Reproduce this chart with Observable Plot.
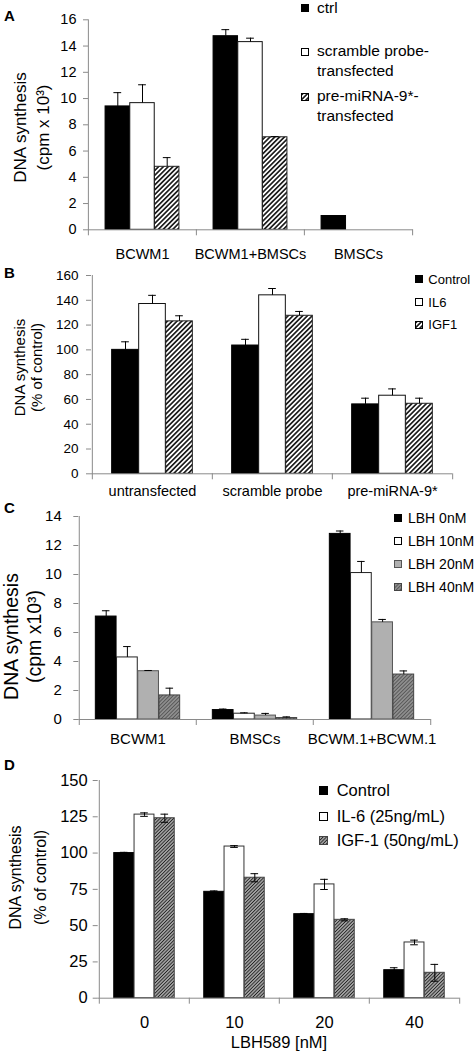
<!DOCTYPE html>
<html><head><meta charset="utf-8">
<script src="https://cdn.jsdelivr.net/npm/d3@7"></script>
<script src="https://cdn.jsdelivr.net/npm/@observablehq/plot@0.6"></script>
<style>
body{margin:0;background:#fff;}
#root{position:relative;width:475px;height:1063px;font-family:"Liberation Sans",Arial,sans-serif;color:#000;overflow:hidden;background:#fff}
.lgt{position:absolute;white-space:nowrap;}
.sw{position:absolute;}
.letter{position:absolute;font-weight:bold;font-size:15px;line-height:1}
</style></head>
<body>
<svg width="0" height="0" style="position:absolute"><defs>
<pattern id="hatchA" patternUnits="userSpaceOnUse" width="3.4" height="3.4" patternTransform="rotate(45)"><rect width="3.4" height="3.4" fill="#fff"/><line x1="1.7" y1="0" x2="1.7" y2="3.4" stroke="#000" stroke-width="1.5"/></pattern>
<pattern id="hatchC" patternUnits="userSpaceOnUse" width="2.6" height="2.6" patternTransform="rotate(45)"><rect width="2.6" height="2.6" fill="#9c9c9c"/><line x1="1.3" y1="0" x2="1.3" y2="2.6" stroke="#555" stroke-width="1.2"/></pattern>
<pattern id="hatchD" patternUnits="userSpaceOnUse" width="2.4" height="2.4" patternTransform="rotate(45)"><rect width="2.4" height="2.4" fill="#c8c8c8"/><line x1="1.2" y1="0" x2="1.2" y2="2.4" stroke="#222" stroke-width="1.2"/></pattern>
</defs></svg>
<div id="root"></div>
<script>
// ---------- Panel A ----------
const catsA = ["BCWM1", "BCWM1+BMSCs", "BMSCs"];
const seriesA = ["ctrl", "scramble probe-transfected", "pre-miRNA-9*-transfected"];
const ctrlA = [9.4, 14.75, 1.05];
const ctrlErrA = [1.05, 0.5, 0];
const scrambleA = [9.65, 14.3, null];
const scrambleErrA = [1.4, 0.3, null];
const preA = [4.8, 7.05, null];
const preErrA = [0.7, 0.05, null];
const ticksA = [0, 2, 4, 6, 8, 10, 12, 14, 16];
const legendA = [["ctrl"], ["scramble probe-", "transfected"], ["pre-miRNA-9*-", "transfected"]];

// ---------- Panel B ----------
const catsB = ["untransfected", "scramble probe", "pre-miRNA-9*"];
const seriesB = ["Control", "IL6", "IGF1"];
const controlB = [100, 103.5, 56];
const controlErrB = [6.5, 5, 5];
const il6B = [137, 144, 63];
const il6ErrB = [7, 5.5, 5.5];
const igf1B = [123, 127.5, 56.5];
const igf1ErrB = [4.5, 3.5, 4.5];
const ticksB = [0, 20, 40, 60, 80, 100, 120, 140, 160];

// ---------- Panel C ----------
const catsC = ["BCWM1", "BMSCs", "BCWM.1+BCWM.1"];
const seriesC = ["LBH 0nM", "LBH 10nM", "LBH 20nM", "LBH 40nM"];
const lbh0C = [7.1, 0.65, 12.8];
const lbh0ErrC = [0.4, 0.07, 0.2];
const lbh10C = [4.28, 0.4, 10.1];
const lbh10ErrC = [0.75, 0.06, 0.8];
const lbh20C = [3.33, 0.27, 6.7];
const lbh20ErrC = [0.05, 0.15, 0.2];
const lbh40C = [1.66, 0.1, 3.1];
const lbh40ErrC = [0.5, 0.08, 0.25];
const ticksC = [0, 2, 4, 6, 8, 10, 12, 14];

// ---------- Panel D ----------
const catsD = ["0", "10", "20", "40"];
const seriesD = ["Control", "IL-6 (25ng/mL)", "IGF-1 (50ng/mL)"];
const controlD = [100, 73.3, 57.9, 19.3];
const controlErrD = [0.5, 0.6, 0.5, 1.7];
const il6D = [126.5, 104.5, 78.4, 38.4];
const il6ErrD = [1.2, 0.6, 3.5, 1.6];
const igf1D = [124, 83, 54, 17.5];
const igf1ErrD = [2.8, 2.8, 0.7, 5.8];
const ticksD = [0, 25, 50, 75, 100, 125, 150];

const W = 475;
const GRAY = "#8a8a8a";
const FONT = "Liberation Sans, Arial, sans-serif";
const root = document.getElementById("root");

function drawPanel(c) {
  const n = c.vals.length;
  const plotW = W - c.ml - c.mr;
  const plotH = c.height - c.mt - c.mb;
  const step = plotW / c.cats.length;
  const inset = (step - c.barW) / 2;
  const capInset = (step - 8) / 2;
  const ymax = c.ticks[c.ticks.length - 1];
  const below = -6 * ymax / plotH;
  const rows = [];
  c.vals.forEach((arr, k) => arr.forEach((v, i) => {
    if (v != null) rows.push({cat: c.cats[i], k, value: v, err: c.errs[k][i] || 0});
  }));
  const marks = [];
  const dxs = d3.range(n).map(k => (k - (n - 1) / 2) * c.barW);
  for (let k = 0; k < n; k++) {
    marks.push(Plot.barY(rows.filter(r => r.k === k), {
      x: "cat", y: "value", fill: c.fills[k], stroke: c.strokes[k], strokeWidth: 1,
      insetLeft: inset, insetRight: inset, dx: dxs[k]
    }));
  }
  for (let k = 0; k < n; k++) {
    const eb = rows.filter(r => r.k === k && r.err > 0);
    marks.push(Plot.ruleX(eb, {x: "cat", y1: r => c.both ? r.value - r.err : r.value, y2: r => r.value + r.err, dx: dxs[k], stroke: "#000", strokeWidth: 1}));
    marks.push(Plot.tickY(eb, {x: "cat", y: r => r.value + r.err, dx: dxs[k], insetLeft: capInset, insetRight: capInset, stroke: "#000", strokeWidth: 1}));
    if (c.both) marks.push(Plot.tickY(eb, {x: "cat", y: r => r.value - r.err, dx: dxs[k], insetLeft: capInset, insetRight: capInset, stroke: "#000", strokeWidth: 1}));
  }
  // axis lines
  marks.push(Plot.ruleY([0], {stroke: GRAY}));
  marks.push(Plot.ruleX([c.cats[0]], {x: d => d, dx: -step / 2, y1: below, y2: ymax, stroke: GRAY}));
  marks.push(Plot.ruleX(c.cats.slice(1), {x: d => d, dx: -step / 2, y1: below, y2: 0, stroke: GRAY}));
  marks.push(Plot.ruleX([c.cats[c.cats.length - 1]], {x: d => d, dx: step / 2, y1: below, y2: 0, stroke: GRAY}));
  marks.push(Plot.axisY({ticks: c.ticks, tickSize: 5, tickPadding: c.tickGap - 5, stroke: GRAY, fontSize: c.tickFs, label: null}));
  marks.push(Plot.axisX({tickSize: 0, tickPadding: c.catPad, fontSize: c.catFs, label: null}));
  const midY = c.top + c.mt + plotH / 2;
  c.titles.forEach(t => marks.push(Plot.text([t.text], {text: d => d, frameAnchor: "left", textAnchor: "middle", lineAnchor: "middle", rotate: -90, dx: t.x - c.ml, dy: t.y - midY, fontSize: t.fs})));
  if (c.xTitle) marks.push(Plot.text([c.xTitle.text], {text: d => d, frameAnchor: "bottom", textAnchor: "middle", lineAnchor: "middle", dy: c.xTitle.y - (c.top + c.height - c.mb), fontSize: c.xTitle.fs}));
  const svg = Plot.plot({
    width: W, height: c.height,
    marginLeft: c.ml, marginRight: c.mr, marginTop: c.mt, marginBottom: c.mb,
    x: {domain: c.cats, padding: 0},
    y: {domain: [0, ymax]},
    style: {fontFamily: FONT, background: "none", overflow: "visible", color: "#000"},
    marks
  });
  svg.style.position = "absolute";
  svg.style.left = "0px";
  svg.style.top = c.top + "px";
  root.appendChild(svg);
}

function legend(entries, sx, tx, size, fs) {
  entries.forEach(e => {
    if (e.fill) {
      const s = document.createElementNS("http://www.w3.org/2000/svg", "svg");
      s.setAttribute("width", size + 1); s.setAttribute("height", size + 1);
      s.setAttribute("class", "sw");
      s.style.left = (sx - 0.5) + "px"; s.style.top = (e.y - size / 2 - 0.5) + "px";
      const r = document.createElementNS("http://www.w3.org/2000/svg", "rect");
      r.setAttribute("x", 0.5); r.setAttribute("y", 0.5); r.setAttribute("width", size); r.setAttribute("height", size);
      r.setAttribute("fill", e.fill); r.setAttribute("stroke", e.stroke || "#000");
      s.appendChild(r); root.appendChild(s);
    }
    const d = document.createElement("div");
    d.className = "lgt";
    d.textContent = e.text;
    d.style.left = tx + "px";
    d.style.fontSize = fs + "px";
    d.style.lineHeight = (fs * 1.2) + "px";
    d.style.top = (e.y - fs * 0.6) + "px";
    root.appendChild(d);
  });
}

function letter(t, x, y) {
  const d = document.createElement("div");
  d.className = "letter"; d.textContent = t;
  d.style.left = x + "px"; d.style.top = (y - 7.5) + "px";
  root.appendChild(d);
}

// Panel A
drawPanel({
  top: 0, height: 262, ml: 88, mr: 62.3, mt: 19.3, mb: 32.7,
  cats: catsA, vals: [ctrlA, scrambleA, preA], errs: [ctrlErrA, scrambleErrA, preErrA],
  fills: ["#000", "#fff", "url(#hatchA)"], strokes: ["#000", "#111", "#222"],
  barW: 24.7, ticks: ticksA, both: false, tickFs: 14.5, tickGap: 12, catFs: 14.5, catPad: 18.5,
  titles: [{text: "DNA synthesis", x: 20, y: 127, fs: 17}, {text: "(cpm x 10³)", x: 43, y: 127, fs: 17}]
});
legend([
  {fill: "#000", y: 8, text: legendA[0][0]},
  {fill: "#fff", y: 51.7, text: legendA[1][0]},
  {y: 71.7, text: legendA[1][1]},
  {fill: "url(#hatchA)", y: 96.7, text: legendA[2][0]},
  {y: 116.7, text: legendA[2][1]}
], 301, 317, 7, 15.5);
letter("A", 4, 15);

// Panel B
drawPanel({
  top: 262, height: 246, ml: 91, mr: 23, mt: 13, mb: 34.7,
  cats: catsB, vals: [controlB, il6B, igf1B], errs: [controlErrB, il6ErrB, igf1ErrB],
  fills: ["#000", "#fff", "url(#hatchA)"], strokes: ["#000", "#111", "#222"],
  barW: 27, ticks: ticksB, both: false, tickFs: 13.5, tickGap: 13, catFs: 14.5, catPad: 11.5,
  titles: [{text: "DNA synthesis", x: 20, y: 367, fs: 15}, {text: "(% of control)", x: 37, y: 367, fs: 15}]
});
legend([
  {fill: "#000", y: 279.3, text: seriesB[0]},
  {fill: "#fff", y: 302.3, text: seriesB[1]},
  {fill: "url(#hatchA)", y: 325, text: seriesB[2]}
], 415.7, 428.3, 7, 13);
letter("B", 4, 272.5);

// Panel C
drawPanel({
  top: 508, height: 255, ml: 78.3, mr: 44.3, mt: 8, mb: 44,
  cats: catsC, vals: [lbh0C, lbh10C, lbh20C, lbh40C], errs: [lbh0ErrC, lbh10ErrC, lbh20ErrC, lbh40ErrC],
  fills: ["#000", "#fff", "#b0b0b0", "url(#hatchC)"], strokes: ["#000", "#222", "#555", "#444"],
  barW: 21.2, ticks: ticksC, both: false, tickFs: 15, tickGap: 17, catFs: 15, catPad: 13.6,
  titles: [{text: "DNA synthesis", x: 11, y: 636, fs: 19.5}, {text: "(cpm x10³)", x: 34, y: 636, fs: 19.5}]
});
legend([
  {fill: "#000", y: 518, text: seriesC[0]},
  {fill: "#fff", y: 541, text: seriesC[1]},
  {fill: "#b0b0b0", stroke: "#555", y: 564, text: seriesC[2]},
  {fill: "url(#hatchC)", stroke: "#444", y: 587, text: seriesC[3]}
], 394.3, 408, 7, 14);
letter("C", 4, 507.5);

// Panel D
drawPanel({
  top: 763, height: 300, ml: 97.7, mr: 15.7, mt: 17, mb: 65.3,
  cats: catsD, vals: [controlD, il6D, igf1D], errs: [controlErrD, il6ErrD, igf1ErrD],
  fills: ["#000", "#fff", "url(#hatchD)"], strokes: ["#000", "#333", "#444"],
  barW: 20.3, ticks: ticksD, both: true, tickFs: 16.5, tickGap: 10.5, catFs: 16.5, catPad: 18,
  titles: [{text: "DNA synthesis", x: 15, y: 877, fs: 16}, {text: "(% of control)", x: 40, y: 877, fs: 16}],
  xTitle: {text: "LBH589 [nM]", y: 1042, fs: 16.5}
});
legend([
  {fill: "#000", y: 790.7, text: seriesD[0]},
  {fill: "#fff", y: 816.7, text: seriesD[1]},
  {fill: "url(#hatchD)", stroke: "#444", y: 840.7, text: seriesD[2]}
], 319.3, 336.7, 8, 16.5);
letter("D", 4, 764);
</script>
</body></html>
